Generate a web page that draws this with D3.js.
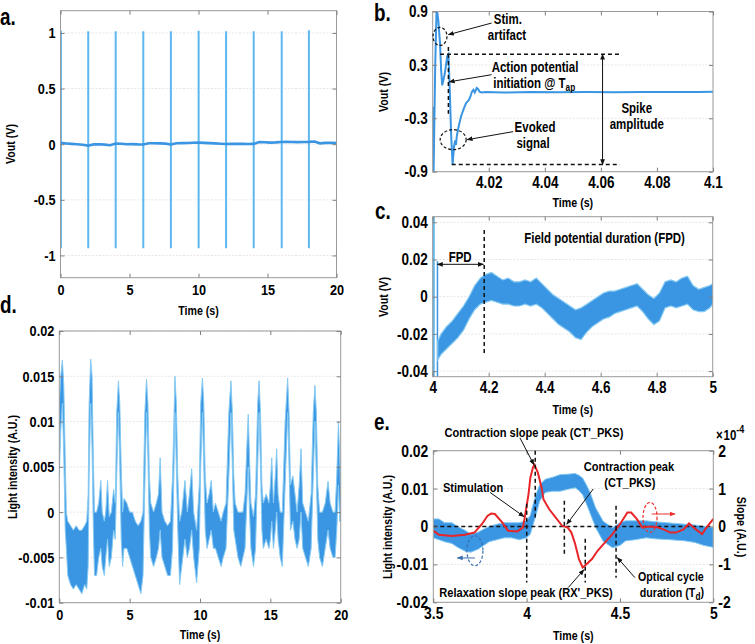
<!DOCTYPE html>
<html><head><meta charset="utf-8">
<script src="https://cdn.jsdelivr.net/npm/d3@7"></script>
<style>
body{margin:0;background:#fff}
svg text{font-family:'Liberation Sans',Arial,sans-serif;font-weight:bold;fill:#000}
</style></head><body><svg id="c" width="755" height="644"></svg>
<script>
// ---------- DATA ----------
// panel a: baseline and stimulation spikes
const aT = [0,0.4,0.8,1.2,1.6,2.0,2.4,2.8,3.2,3.6,4.0,4.4,4.8,5.2,5.6,6.0,6.4,6.8,7.2,7.6,8.0,8.4,8.8,9.2,9.6,10.0,10.4,10.8,11.2,11.6,12.0,12.4,12.8,13.2,13.6,14.0,14.4,14.8,15.2,15.6,16.0,16.4,16.8,17.2,17.6,18.0,18.4,18.8,19.2,19.6,20];
const aV = [0.012,0.007,0.003,0.0,-0.005,-0.013,-0.002,-0.001,-0.004,-0.009,0.006,0.004,0.0,0.001,-0.002,-0.003,0.008,0.009,0.007,0.005,-0.002,0.009,0.01,0.011,0.013,0.015,0.012,0.01,0.007,0.004,0.002,0.003,0.004,0.003,0.002,0.003,0.019,0.017,0.014,0.016,0.02,0.021,0.02,0.019,0.02,0.021,0.024,0.008,0.012,0.013,0.011];
const aSpikeT = [0.03,2.01,4.0,6.0,8.0,10.01,12.0,14.0,16.03,18.0];
const aSpikeHi = [1.02,1.015,1.015,1.015,1.015,1.02,1.015,1.015,1.015,1.025];
const aSpikeLo = [-0.935,-0.935,-0.935,-0.935,-0.935,-0.935,-0.935,-0.935,-0.935,-0.935];
const aXTicks = [0,5,10,15,20], aXLabels = ['0','5','10','15','20'];
const aYTicks = [-1,-0.5,0,0.5,1], aYLabels = ['-1','-0.5','0','0.5','1'];

// panel b: single evoked response
const bT = [4.0,4.0003,4.0009,4.0014,4.002,4.0026,4.003,4.0034,4.0043,4.0052,4.0056,4.006,4.0066,4.0071,4.0076,4.008,4.0083,4.0086,4.0092,4.0101,4.011,4.0119,4.0128,4.0134,4.014,4.0145,4.015,4.0157,4.0162,4.0167,4.0175,4.019,4.025,4.035,4.045,4.055,4.065,4.075,4.085,4.095,4.1];
const bV = [-0.17,-0.95,0.3,0.95,0.8,0.55,0.25,0.07,0.2,0.4,0.42,0.1,-0.5,-0.82,-0.62,-0.55,-0.6,-0.5,-0.4,-0.28,-0.2,-0.13,-0.1,-0.06,0.0,0.02,-0.01,0.04,0.03,0.0,-0.01,-0.005,-0.01,-0.005,-0.008,-0.005,-0.006,-0.004,-0.005,-0.004,-0.003];
const bXTicks = [4.02,4.04,4.06,4.08,4.1], bXLabels = ['4.02','4.04','4.06','4.08','4.1'];
const bYTicks = [-0.9,-0.3,0.3,0.9], bYLabels = ['-0.9','-0.3','0.3','0.9'];

// panel c: field potential (noisy band: low / high envelope)
const cT  = [4.018,4.03,4.05,4.07,4.09,4.11,4.13,4.15,4.17,4.19,4.21,4.23,4.25,4.27,4.29,4.31,4.33,4.35,4.37,4.39,4.41,4.43,4.45,4.47,4.49,4.51,4.53,4.55,4.57,4.59,4.61,4.63,4.65,4.67,4.69,4.71,4.73,4.75,4.77,4.79,4.81,4.83,4.85,4.87,4.89,4.91,4.93,4.95,4.97,4.99,5.0];
const cLo = [-0.034,-0.031,-0.028,-0.025,-0.022,-0.018,-0.012,-0.007,-0.004,-0.003,-0.002,-0.003,-0.004,-0.004,-0.005,-0.005,-0.004,-0.005,-0.004,-0.006,-0.009,-0.012,-0.015,-0.017,-0.019,-0.022,-0.023,-0.019,-0.016,-0.014,-0.012,-0.011,-0.009,-0.008,-0.007,-0.006,-0.005,-0.008,-0.012,-0.015,-0.013,-0.006,-0.005,-0.006,-0.005,-0.004,-0.007,-0.008,-0.008,-0.006,-0.004];
const cHi = [-0.024,-0.02,-0.016,-0.013,-0.009,-0.005,0.0,0.006,0.01,0.012,0.013,0.011,0.009,0.01,0.008,0.008,0.009,0.008,0.01,0.007,0.004,0.001,-0.001,-0.003,-0.005,-0.007,-0.006,-0.004,-0.002,0.0,0.002,0.003,0.003,0.004,0.005,0.006,0.007,0.004,0.001,-0.001,0.002,0.008,0.009,0.008,0.01,0.011,0.006,0.004,0.005,0.006,0.007];
const cSpikeT = [4.002,4.017], cSpikeHi = [0.045,0.019], cSpikeLo = [-0.045,-0.045];
const cXTicks = [4,4.2,4.4,4.6,4.8,5], cXLabels = ['4','4.2','4.4','4.6','4.8','5'];
const cYTicks = [-0.04,-0.02,0,0.02,0.04], cYLabels = ['-0.04','-0.02','0','0.02','0.04'];

// panel d: light intensity over 20 s (envelope)
const dT = [0.0,0.1,0.22,0.32,0.42,0.5,0.6,0.8,1.0,1.2,1.4,1.6,1.8,1.95,2.05,2.12,2.23,2.33,2.42,2.5,2.65,2.8,2.95,3.05,3.2,3.3,3.43,3.55,3.7,3.86,3.98,4.08,4.2,4.3,4.4,4.5,4.6,4.8,5.0,5.2,5.4,5.6,5.8,5.95,6.08,6.2,6.3,6.4,6.5,6.7,6.9,7.05,7.17,7.3,7.5,7.7,7.9,8.05,8.22,8.32,8.42,8.55,8.7,8.93,9.1,9.25,9.41,9.55,9.76,9.95,10.05,10.17,10.27,10.37,10.5,10.65,10.8,10.95,11.1,11.3,11.5,11.65,11.85,12.05,12.2,12.3,12.4,12.5,12.7,12.9,13.05,13.2,13.35,13.43,13.52,13.62,13.8,13.95,14.1,14.2,14.3,14.4,14.5,14.7,14.9,15.0,15.1,15.22,15.35,15.45,15.55,15.7,15.85,16.05,16.23,16.33,16.43,16.6,16.75,16.9,17.05,17.18,17.3,17.5,17.7,17.9,18.05,18.17,18.27,18.37,18.5,18.7,18.9,19.1,19.25,19.45,19.6,19.72,19.84,19.93,20.0];
const dLo = [0.004,0.009,0.012,0.006,-0.002,-0.004,-0.007,-0.008,-0.0085,-0.008,
 -0.0085,-0.009,-0.008,-0.0085,-0.006,0.004,0.012,0.007,-0.002,-0.007,
 -0.007,-0.005,-0.004,-0.006,-0.007,-0.005,-0.003,-0.006,-0.005,-0.002,
 -0.003,0.004,0.011,0.005,-0.003,-0.006,-0.004,-0.004,-0.005,-0.006,
 -0.007,-0.008,-0.009,-0.007,0.003,0.011,0.006,-0.002,-0.005,-0.006,
 -0.005,-0.004,-0.002,-0.005,-0.006,-0.007,-0.007,-0.004,0.011,0.005,
 -0.002,-0.008,-0.006,-0.003,-0.005,-0.004,-0.002,-0.005,-0.0078,-0.004,
 0.005,0.011,0.005,-0.002,-0.004,-0.003,-0.002,-0.004,-0.004,-0.005,
 -0.006,-0.005,-0.004,0.004,0.011,0.005,-0.002,-0.003,-0.005,-0.006,
 -0.005,-0.004,0.002,0.005,0.0,-0.004,-0.006,-0.004,0.005,0.011,
 0.005,-0.002,-0.004,-0.003,-0.004,-0.003,-0.001,-0.004,-0.002,0.0,
 -0.003,-0.005,-0.006,0.003,0.011,0.005,-0.002,-0.001,-0.003,-0.004,
 -0.003,0.0,-0.004,-0.005,-0.006,-0.004,0.004,0.01,0.004,-0.003,
 -0.005,-0.006,-0.004,-0.002,-0.004,-0.005,-0.005,-0.002,0.003,-0.001,
 -0.001];
const dHi = [0.012,0.015,0.0168,0.014,0.006,0.0,-0.001,-0.0015,-0.002,-0.0015,
 -0.002,-0.002,-0.0015,-0.001,0.002,0.012,0.0169,0.015,0.006,0.0,
 0.0,0.001,0.0035,0.0,-0.001,0.0,0.0035,-0.0005,0.0,0.0025,
 0.001,0.011,0.0145,0.012,0.005,0.0,0.0015,0.001,0.0,0.0,
 -0.001,-0.0015,-0.001,0.0,0.011,0.0147,0.012,0.004,0.001,0.0,
 0.001,0.002,0.006,0.0,-0.001,-0.0015,-0.001,0.004,0.015,0.012,
 0.004,-0.001,0.0,0.0035,0.0,0.002,0.0048,0.0,-0.002,0.003,
 0.012,0.0148,0.012,0.004,0.001,0.002,0.0035,0.0,0.001,0.0,
 -0.001,0.0,0.001,0.011,0.0145,0.011,0.004,0.001,0.0,0.0,
 0.0,0.002,0.008,0.0108,0.006,0.001,-0.0005,0.002,0.012,0.0145,
 0.011,0.003,0.001,0.002,0.001,0.003,0.006,0.001,0.004,0.007,
 0.002,0.0,0.0,0.01,0.0148,0.011,0.003,0.004,0.002,0.0,
 0.003,0.007,0.001,0.0,-0.001,0.002,0.011,0.014,0.011,0.003,
 0.0,0.0,0.001,0.0034,0.001,0.0,0.0,0.004,0.01,0.006,
 0.002];
const dXTicks = [0,5,10,15,20], dXLabels = ['0','5','10','15','20'];
const dYTicks = [-0.01,-0.005,0,0.005,0.01,0.015,0.02], dYLabels = ['-0.01','-0.005','0','0.005','0.01','0.015','0.02'];

// panel e: one optical cycle (blue envelope, left axis) and slope (red, right axis, x1e-4)
const eBT  = [3.5,3.53,3.56,3.6,3.63,3.67,3.7,3.74,3.77,3.8,3.84,3.88,3.92,3.96,4.0,4.02,4.03,4.05,4.07,4.1,4.14,4.18,4.22,4.26,4.28,4.3,4.32,4.34,4.37,4.41,4.46,4.5,4.53,4.58,4.64,4.7,4.75,4.8,4.85,4.9,4.95,5.0];
const eBLo = [-0.003,-0.0035,-0.004,-0.0045,-0.0055,-0.0065,-0.0068,-0.006,-0.005,-0.004,-0.0035,-0.003,-0.003,-0.0035,-0.003,-0.002,-0.0003,0.003,0.0067,0.009,0.0093,0.0093,0.0098,0.0102,0.0095,0.0084,0.006,0.0035,-0.0003,-0.0039,-0.0056,-0.005,-0.0038,-0.0035,-0.003,-0.0033,-0.0034,-0.0036,-0.0038,-0.0042,-0.005,-0.0055];
const eBHi = [0.002,0.002,0.001,0.001,0.0,-0.001,-0.002,-0.0015,-0.0007,0.0,0.0006,0.001,0.001,0.001,0.0015,0.003,0.005,0.0085,0.011,0.0125,0.013,0.0137,0.0138,0.014,0.0135,0.0128,0.011,0.009,0.0049,0.0014,-0.0003,0.001,0.0015,0.0015,0.0015,0.0012,0.001,0.0008,0.0006,0.0004,0.0,-0.0003];
const eRT = [3.5,3.53,3.6,3.67,3.72,3.76,3.79,3.81,3.83,3.87,3.9,3.95,3.98,3.99,4.01,4.02,4.034,4.042,4.06,4.08,4.09,4.12,4.155,4.19,4.22,4.24,4.26,4.28,4.3,4.31,4.35,4.38,4.42,4.46,4.5,4.54,4.56,4.59,4.62,4.66,4.7,4.73,4.77,4.8,4.84,4.87,4.9,4.94,4.96,5.0];
const eRV = [-0.11,-0.22,-0.25,-0.22,-0.16,0.06,0.28,0.34,0.33,0.1,-0.11,-0.13,-0.03,0.24,0.85,1.29,1.56,1.63,1.42,1.03,0.72,0.46,0.24,0.02,-0.03,-0.16,-0.46,-0.86,-1.08,-1.04,-0.86,-0.64,-0.42,-0.2,0.06,0.37,0.37,0.2,-0.03,0.0,-0.02,-0.07,-0.16,-0.16,-0.08,0.08,-0.05,-0.2,-0.05,0.2];
const eXTicks = [3.5,4,4.5,5], eXLabels = ['3.5','4','4.5','5'];
const eYTicks = [-0.02,-0.01,0,0.01,0.02], eYLabels = ['-0.02','-0.01','0','0.01','0.02'];
const eY2Ticks = [-2,-1,0,1,2], eY2Labels = ['-2','-1','0','1','2'];

// ---------- DRAWING ----------
const SX = 0.82; // horizontal condensing of the bold sans face
const svg = d3.select('#c');
svg.append('rect').attr('width',755).attr('height',644).attr('fill','#fff');
const defs = svg.append('defs');
function marker(id, color){
  defs.append('marker').attr('id',id).attr('viewBox','0 0 10 10').attr('refX',9).attr('refY',5)
    .attr('markerWidth',6).attr('markerHeight',6).attr('markerUnits','userSpaceOnUse').attr('orient','auto-start-reverse')
    .append('path').attr('d','M0,1 L10,5 L0,9 z').attr('fill',color);
}
marker('ak','#111'); marker('ar','#e8312f'); marker('ab','#3b6fb0');

const BOX='#9a9a9a', GRID='#e6e6e6';
let clipN=0;
function panel(o){
  const x=d3.scaleLinear().domain(o.xd).range([o.l,o.r]);
  const y=d3.scaleLinear().domain(o.yd).range([o.b,o.t]);
  const g=svg.append('g');
  const id='clip'+(clipN++);
  defs.append('clipPath').attr('id',id).append('rect').attr('x',o.l).attr('y',o.t).attr('width',o.r-o.l).attr('height',o.b-o.t);
  g.append('g').selectAll('line').data(o.yt).join('line')
    .attr('x1',o.l).attr('x2',o.r).attr('y1',d=>y(d)).attr('y2',d=>y(d))
    .attr('stroke',GRID).attr('stroke-width',1).attr('stroke-dasharray','2,1.5');
  const data=g.append('g').attr('clip-path',`url(#${id})`);
  return {x,y,g,data,o};
}
function styleAxis(sel, fs){
  sel.attr('font-size',fs);
  sel.select('.domain').remove();
  sel.selectAll('line').attr('stroke','#7f7f7f');
  sel.selectAll('text').attr('fill','#000').each(function(){
    const t=d3.select(this); const xx=+t.attr('x')||0;
    t.attr('x',xx/SX).attr('transform',`scale(${SX},1)`);
  });
}
function txt(g,x,y,s,fs,anchor,rot){
  return g.append('text').attr('transform',`translate(${x},${y})${rot?` rotate(${rot})`:''} scale(${SX},1)`)
    .attr('dy','0.35em').attr('text-anchor',anchor||'middle').attr('font-size',fs).text(s);
}
function frame(p){
  const {x,y,g,o}=p;
  const fs=o.fs;
  g.append('rect').attr('x',o.l).attr('y',o.t).attr('width',o.r-o.l).attr('height',o.b-o.t)
    .attr('fill','none').attr('stroke',BOX).attr('stroke-width',1);
  g.append('g').attr('transform',`translate(0,${o.b})`)
    .call(d3.axisBottom(x).tickValues(o.xt).tickFormat((d,i)=>o.xl[i]).tickSizeInner(-4).tickSizeOuter(0).tickPadding(o.xpad))
    .call(s=>styleAxis(s,fs));
  g.append('g').attr('transform',`translate(0,${o.t})`)
    .call(d3.axisTop(x).tickValues(o.xt).tickFormat('').tickSizeInner(-4).tickSizeOuter(0))
    .call(s=>styleAxis(s,fs));
  g.append('g').attr('transform',`translate(${o.l},0)`)
    .call(d3.axisLeft(y).tickValues(o.yt).tickFormat((d,i)=>o.yl[i]).tickSizeInner(-4).tickSizeOuter(0).tickPadding(o.ypad))
    .call(s=>styleAxis(s,fs));
  if(!o.y2){
    g.append('g').attr('transform',`translate(${o.r},0)`)
      .call(d3.axisRight(y).tickValues(o.yt).tickFormat('').tickSizeInner(-4).tickSizeOuter(0))
      .call(s=>styleAxis(s,fs));
  }
  txt(g,(o.l+o.r)/2,o.xty,'Time (s)',o.tfs);
  txt(g,o.ytx,o.yty,o.ytitle,o.tfs,'middle',-90);
}
function label(t,x,y){ svg.append('text').attr('transform',`translate(${x},${y}) scale(${SX},1)`).attr('font-size',23).text(t); }
function dashed(g,x1,y1,x2,y2,color){ g.append('line').attr('x1',x1).attr('y1',y1).attr('x2',x2).attr('y2',y2)
  .attr('stroke',color||'#111').attr('stroke-width',1.5).attr('stroke-dasharray','4,3'); }
function arrow(g,x1,y1,x2,y2,m,color,both){ const l=g.append('line').attr('x1',x1).attr('y1',y1).attr('x2',x2).attr('y2',y2)
  .attr('stroke',color||'#111').attr('stroke-width',1).attr('marker-end',`url(#${m||'ak'})`);
  if(both) l.attr('marker-start',`url(#${m||'ak'})`); }
function ell(g,cx,cy,rx,ry,color){ g.append('ellipse').attr('cx',cx).attr('cy',cy).attr('rx',rx).attr('ry',ry)
  .attr('fill','none').attr('stroke',color||'#111').attr('stroke-width',1.2).attr('stroke-dasharray','3,2'); }

const BLUE='#3a95e2', LBLUE='#5cb8ee', EDGE='#86caf2';

// ----- panel a -----
{
  const p=panel({l:60.5,r:336.5,t:10.7,b:277.7,xd:[0,20],yd:[-1.2,1.2],yt:aYTicks});
  const {x,y,data}=p;
  data.selectAll('line.sp').data(aSpikeT).join('line').attr('x1',d=>x(d)).attr('x2',d=>x(d))
    .attr('y1',(d,i)=>y(aSpikeHi[i])).attr('y2',(d,i)=>y(aSpikeLo[i])).attr('stroke',LBLUE).attr('stroke-width',2);
  data.append('path').datum(aT).attr('d',d3.line().x(d=>x(d)).y((d,i)=>y(aV[i])))
    .attr('fill','none').attr('stroke',BLUE).attr('stroke-width',2.6);
  frame({...p,o:{...p.o,xt:aXTicks,xl:aXLabels,yl:aYLabels,fs:15.5,xpad:6,ypad:5,tfs:13,xty:310,ytx:10,yty:144,ytitle:'Vout (V)'}});
  label('a.',0,25);
}
// ----- panel b -----
{
  const p=panel({l:432.7,r:713,t:11.5,b:171.7,xd:[4,4.1],yd:[-0.9,0.9],yt:bYTicks});
  const {x,y,data,g}=p;
  data.append('path').datum(bT).attr('d',d3.line().x(d=>x(d)).y((d,i)=>y(bV[i])))
    .attr('fill','none').attr('stroke',BLUE).attr('stroke-width',2);
  frame({...p,o:{...p.o,xt:bXTicks,xl:bXLabels,yl:bYLabels,fs:16.5,xpad:5,ypad:5,tfs:13,xty:202,ytx:383,yty:92,ytitle:'Vout (V)'}});
  const A=14;
  ell(g,x(4.0026),y(0.62),7,9);
  arrow(g,x(4.021),y(0.77),x(4.0056),y(0.64));
  txt(g,x(4.0268),y(0.815),'Stim.',A); txt(g,x(4.0265),y(0.63),'artifact',A);
  dashed(g,x(4.0056),y(0.5),x(4.0056),y(-0.25));
  dashed(g,x(4.0026),y(0.42),x(4.0668),y(0.42));
  dashed(g,x(4.0068),y(-0.82),x(4.0668),y(-0.82));
  arrow(g,x(4.0606),y(0.42),x(4.0606),y(-0.82),'ak','#111',true);
  txt(g,x(4.0365),y(0.28),'Action potential',A);
  const t2=txt(g,x(4.0362),y(0.094),'initiation @ T',A);
  t2.append('tspan').attr('font-size',10).attr('dy','0.3em').text('ap');
  arrow(g,x(4.021),y(0.19),x(4.0059),y(0.11));
  txt(g,x(4.0728),y(-0.18),'Spike',A); txt(g,x(4.0728),y(-0.36),'amplitude',A);
  ell(g,x(4.0073),y(-0.54),13,10);
  arrow(g,x(4.0287),y(-0.45),x(4.0123),y(-0.54));
  txt(g,x(4.0365),y(-0.40),'Evoked',A); txt(g,x(4.0358),y(-0.58),'signal',A);
  label('b.',374,21);
}
// ----- panel c -----
{
  const p=panel({l:432.7,r:712.7,t:216.7,b:376.7,xd:[4,5],yd:[-0.043,0.043],yt:cYTicks});
  const {x,y,data,g}=p;
  data.selectAll('line.sp').data(cSpikeT).join('line').attr('x1',d=>x(d)).attr('x2',d=>x(d))
    .attr('y1',(d,i)=>y(cSpikeHi[i])).attr('y2',(d,i)=>y(cSpikeLo[i])).attr('stroke',(d,i)=>i?BLUE:LBLUE).attr('stroke-width',(d,i)=>i?1.5:3);
  data.append('path').datum(cT).attr('d',d3.area().x(d=>x(d)).y0((d,i)=>y(cLo[i])).y1((d,i)=>y(cHi[i])))
    .attr('fill',BLUE).attr('stroke',EDGE).attr('stroke-width',1.2);
  frame({...p,o:{...p.o,xt:cXTicks,xl:cXLabels,yl:cYLabels,fs:16.5,xpad:5,ypad:5,tfs:13,xty:409,ytx:383,yty:297,ytitle:'Vout (V)'}});
  dashed(g,x(4.184),y(0.0358),x(4.184),y(-0.0303));
  arrow(g,x(4.0165),y(0.0174),x(4.181),y(0.0174),'ak','#111',true);
  txt(g,x(4.098),y(0.0214),'FPD',14);
  txt(g,x(4.614),y(0.0313),'Field potential duration (FPD)',14);
  label('c.',375,219);
}
// ----- panel d -----
{
  const p=panel({l:59.3,r:340.7,t:331,b:602.7,xd:[0,20],yd:[-0.01,0.02],yt:dYTicks});
  const {x,y,data}=p;
  data.append('path').datum(dT).attr('d',d3.area().x(d=>x(d)).y0((d,i)=>y(dLo[i])).y1((d,i)=>y(dHi[i])))
    .attr('fill',BLUE).attr('stroke',EDGE).attr('stroke-width',1);
  frame({...p,o:{...p.o,xt:dXTicks,xl:dXLabels,yl:dYLabels,fs:15.5,xpad:6,ypad:5,tfs:13,xty:634.3,ytx:12,yty:467,ytitle:'Light intensity (A.U.)'}});
  label('d.',0,313);
}
// ----- panel e -----
{
  const p=panel({l:433.3,r:713.3,t:450.7,b:602.3,xd:[3.5,5],yd:[-0.02,0.02],yt:eYTicks});
  const {x,y,data,g,o}=p;
  const y2=d3.scaleLinear().domain([-2,2]).range([o.b,o.t]);
  data.append('path').datum(eBT).attr('d',d3.area().x(d=>x(d)).y0((d,i)=>y(eBLo[i])).y1((d,i)=>y(eBHi[i])))
    .attr('fill',BLUE).attr('stroke',EDGE).attr('stroke-width',1);
  dashed(data,o.l,y(0),o.r,y(0));
  data.append('path').datum(eRT).attr('d',d3.line().x(d=>x(d)).y((d,i)=>y2(eRV[i])))
    .attr('fill','none').attr('stroke','#e8262a').attr('stroke-width',2);
  frame({...p,o:{...o,y2:true,xt:eXTicks,xl:eXLabels,yl:eYLabels,fs:17,xpad:5,ypad:5,tfs:13,xty:635,ytx:387,yty:527,ytitle:'Light intensity (A.U.)'}});
  g.append('g').attr('transform',`translate(${o.r},0)`)
    .call(d3.axisRight(y2).tickValues(eY2Ticks).tickFormat((d,i)=>eY2Labels[i]).tickSizeInner(-4).tickSizeOuter(0).tickPadding(5))
    .call(s=>styleAxis(s,17));
  const ex=g.append('text').attr('transform',`translate(716,440) scale(${SX},1)`).attr('font-size',14);
  ex.append('tspan').text('×');
  ex.append('tspan').attr('dx',1).text('10');
  ex.append('tspan').attr('font-size',11).attr('dy',-7).text('-4');
  txt(g,742,527,'Slope (A.U.)',13,'middle',90);
  const A=13.5;
  dashed(g,x(4.0004),y(0.006),x(4.0004),y(-0.0148));
  dashed(g,x(4.046),y(0.02),x(4.046),y(0.0024));
  dashed(g,x(4.202),y(0.0068),x(4.202),y(-0.0077));
  dashed(g,x(4.314),y(-0.0032),x(4.314),y(-0.0148));
  dashed(g,x(4.479),y(0.0055),x(4.479),y(-0.0135));
  txt(g,x(4.039),y(0.0248),"Contraction slope peak (CT'_PKS)",A);
  arrow(g,x(3.964),y(0.0234),x(4.039),y(0.0163));
  txt(g,x(3.713),y(0.0103),'Stimulation',A);
  arrow(g,x(3.804),y(0.009),x(3.986),y(0.0026));
  txt(g,x(4.548),y(0.0158),'Contraction peak',A);
  txt(g,x(4.553),y(0.0116),'(CT_PKS)',A);
  arrow(g,x(4.357),y(0.0099),x(4.215),y(0.0006));
  txt(g,x(3.997),y(-0.0174),"Relaxation slope peak (RX'_PKS)",A);
  arrow(g,x(4.223),y(-0.0161),x(4.307),y(-0.0114));
  txt(g,x(4.773),y(-0.0131),'Optical cycle',13);
  const td=txt(g,x(4.778),y(-0.0174),'duration (T',13);
  td.append('tspan').attr('font-size',10).attr('dy','0.3em').text('d');
  td.append('tspan').attr('dy','-0.3em').text(')');
  arrow(g,x(4.58),y(-0.0135),x(4.486),y(-0.0082));
  ell(g,x(3.723),y(-0.0064),8,15,'#3b6fb0');
  arrow(g,x(3.723),y(-0.0083),x(3.629),y(-0.0083),'ab','#3b6fb0');
  ell(g,x(4.661),y(0.0024),7,15,'#e8312f');
  arrow(g,x(4.67),y(0.0033),x(4.795),y(0.0033),'ar','#e8312f');
  label('e.',374,430);
}
</script></body></html>
